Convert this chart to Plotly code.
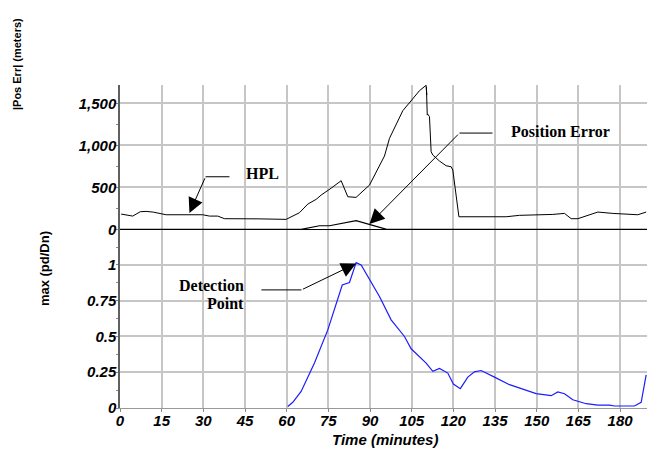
import plotly.graph_objects as go

# ---- data -------------------------------------------------------------
# Horizontal protection level (meters) vs time (minutes)
hpl_time = [0.4, 2.0, 4.6, 7.3, 9.4, 12.0, 16.6, 29.8, 32.2, 35.2, 37.6, 50.0, 59.8,
            64.6, 67.6, 70.6, 72.4, 76.0, 79.6, 82.0, 85.0, 89.8, 93.4, 95.2, 97.0,
            100.6, 101.8, 107.8, 109.5, 110.2, 110.4, 110.3, 110.6, 110.8, 111.4,
            111.6, 111.8, 112.0, 112.6, 115.0, 117.4, 119.2, 119.8, 122.0, 139.0,
            143.8, 155.8, 160.0, 162.4, 164.8, 172.0, 177.4, 186.4, 189.4]
hpl_m = [182, 175, 158, 210, 214, 205, 174, 174, 158, 158, 127, 125, 119,
         198, 301, 357, 408, 490, 579, 388, 381, 527, 765, 873, 1083,
         1321, 1412, 1650, 1700, 1715, 1600, 1690, 1360, 1370, 1341,
         1100, 1000, 924, 885, 813, 757, 745, 706, 150, 150,
         167, 178, 190, 127, 127, 206, 190, 174, 206]

# Position error magnitude (meters)
pe_time = [0, 61.0, 65.2, 71.8, 75.4, 85.0, 89.8, 96.0, 189.7]
pe_m = [0, 0, 0, 43, 43, 103, 60, 0, 0]

# Detection statistic max(pd/Dn)
det_time = [60.4, 62.2, 65.2, 70.0, 74.8, 80.0, 82.6, 85.0, 86.8, 91.0, 93.4, 97.6,
            102.4, 104.8, 110.2, 112.6, 115.0, 118.0, 120.0, 122.5, 125.2, 127.6,
            130.0, 134.8, 140.2, 149.8, 155.2, 157.6, 160.0, 163.0, 167.8, 172.0,
            176.2, 178.0, 185.2, 187.6, 189.4]
det_val = [0.011, 0.04, 0.116, 0.314, 0.546, 0.86, 0.877, 1.016, 1.0, 0.86, 0.779, 0.616,
           0.5, 0.414, 0.314, 0.256, 0.277, 0.244, 0.167, 0.135, 0.216, 0.253,
           0.262, 0.216, 0.163, 0.1, 0.086, 0.112, 0.1, 0.058, 0.03, 0.02,
           0.02, 0.014, 0.014, 0.04, 0.232]

x_ticks = list(range(0, 181, 15))
top_ticks = [0, 500, 1000, 1500]
top_tick_text = ["0", "500", "1,000", "1,500"]
bot_ticks = [0, 0.25, 0.5, 0.75, 1]
bot_tick_text = ["0", "0.25", "0.5", "0.75", "1"]


def italic(labels):
    return ["<i>%s</i>" % s for s in labels]


# ---- styling ----------------------------------------------------------
GRID = "#c6c6c6"
TICKFONT = dict(family="Liberation Sans, Arial, sans-serif", size=15,
                color="black", weight="bold", style="italic")
LABELFONT = dict(family="Liberation Serif, Times New Roman, serif", size=16,
                 color="black", weight="bold")
X_RANGE = [0, 189.7]

fig = go.Figure()
fig.add_trace(go.Scatter(x=hpl_time, y=hpl_m, mode="lines", xaxis="x", yaxis="y",
                         line=dict(color="black", width=1), showlegend=False))
fig.add_trace(go.Scatter(x=pe_time, y=pe_m, mode="lines", xaxis="x", yaxis="y",
                         line=dict(color="black", width=1.2), showlegend=False))
fig.add_trace(go.Scatter(x=det_time, y=det_val, mode="lines", xaxis="x2", yaxis="y2",
                         line=dict(color="#1c1cff", width=1.2), showlegend=False))

common_x = dict(range=X_RANGE, tickvals=x_ticks, showgrid=True, gridcolor=GRID,
                gridwidth=1.5, zeroline=False)

fig.update_layout(
    width=647, height=455,
    margin=dict(l=120, r=0, t=85, b=47),
    paper_bgcolor="white", plot_bgcolor="white",
    xaxis=dict(domain=[0, 1], anchor="y", showticklabels=False, ticks="",
               showline=False, **common_x),
    yaxis=dict(domain=[0.52, 1], anchor="x", range=[-127, 1718],
               tickvals=top_ticks, ticktext=italic(top_tick_text), tickfont=TICKFONT,
               ticks="outside", ticklen=2, tickcolor="#888", ticklabelstandoff=-3,
               minor=dict(tick0=0, dtick=250, ticks="outside", ticklen=2,
                          tickcolor="#888", showgrid=False),
               showline=True, linecolor="#606060", linewidth=1.5,
               showgrid=True, gridcolor=GRID, gridwidth=1.5,
               zeroline=True, zerolinecolor="black", zerolinewidth=1),
    xaxis2=dict(domain=[0, 1], anchor="y2",
                ticktext=italic([str(v) for v in x_ticks]),
                tickfont=TICKFONT, ticks="outside", ticklen=3, tickcolor="#888",
                ticklabelstandoff=-4,
                showline=True, linecolor="#999", linewidth=1, **common_x),
    yaxis2=dict(domain=[0, 0.52], anchor="x2", range=[0, 1.174],
                tickvals=bot_ticks, ticktext=italic(bot_tick_text), tickfont=TICKFONT,
                ticks="outside", ticklen=2, tickcolor="#888", ticklabelstandoff=-3,
                minor=dict(tick0=0, dtick=0.125, ticks="outside", ticklen=2,
                           tickcolor="#888", showgrid=False),
                showline=True, linecolor="#606060", linewidth=1.5,
                showgrid=True, gridcolor=GRID, gridwidth=1.5, zeroline=False),
)

# ---- callouts: horizontal leader + arrow to the curve ------------------
callouts = [
    # (xref, yref, tip_x, tip_y, elbow_x, elbow_y, end_x)
    ("x", "y", 25.0, 194, 30.8, 626, 39.4),
    ("x", "y", 89.8, 63, 122.2, 1146, 134.1),
    ("x2", "y2", 85.0, 1.01, 65.3, 0.8255, 50.9),
]
for xr, yr, tx, ty, ex, ey, endx in callouts:
    fig.add_shape(type="line", xref=xr, yref=yr, x0=ex, y0=ey, x1=endx, y1=ey,
                  line=dict(color="black", width=1))
    fig.add_annotation(xref=xr, yref=yr, axref=xr, ayref=yr, x=tx, y=ty, ax=ex, ay=ey,
                       text="", showarrow=True, arrowhead=2, arrowsize=3,
                       arrowwidth=1, arrowcolor="black", standoff=0, startstandoff=0)

fig.add_annotation(xref="x", yref="y", x=51.3, y=660, text="HPL", showarrow=False,
                   font=LABELFONT, xanchor="center", yanchor="middle")
fig.add_annotation(xref="x", yref="y", x=158.6, y=1170, text="Position Error",
                   showarrow=False, font=LABELFONT, xanchor="center", yanchor="middle")
fig.add_annotation(xref="x2", yref="y2", x=45.2, y=0.856, text="Detection",
                   showarrow=False, font=LABELFONT, xanchor="right", yanchor="middle")
fig.add_annotation(xref="x2", yref="y2", x=45.2, y=0.728, text="Point",
                   showarrow=False, font=LABELFONT, xanchor="right", yanchor="middle")

# ---- axis titles --------------------------------------------------------
TITLEFONT = dict(family="Liberation Sans, Arial, sans-serif", size=11,
                 color="black", weight="bold")
fig.add_annotation(xref="paper", yref="paper", x=-0.1954, y=1.065,
                   text="|Pos Err| (meters)", textangle=-90, showarrow=False,
                   font=TITLEFONT, xanchor="center", yanchor="middle")
fig.add_annotation(xref="paper", yref="paper", x=-0.1442, y=0.43,
                   text="max (pd/Dn)", textangle=-90, showarrow=False,
                   font=dict(TITLEFONT, size=13), xanchor="center", yanchor="middle")
fig.add_annotation(xref="paper", yref="paper", x=0.503, y=-0.098,
                   text="<i>Time (minutes)</i>", showarrow=False,
                   font=dict(family="Liberation Sans, Arial, sans-serif", size=15,
                             color="black", weight="bold", style="italic"),
                   xanchor="center", yanchor="middle")

fig.write_html("out.html")
